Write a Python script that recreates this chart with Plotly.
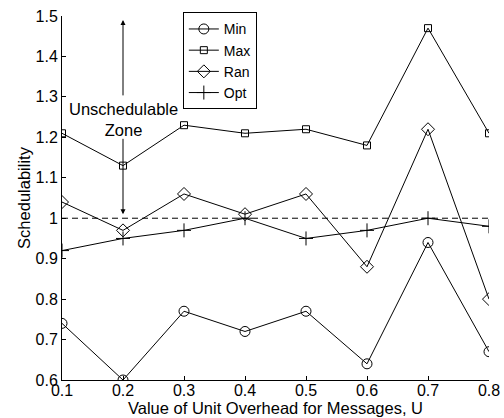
import plotly.graph_objects as go

u_values = [0.1, 0.2, 0.3, 0.4, 0.5, 0.6, 0.7, 0.8]
min_vals = [0.74, 0.60, 0.77, 0.72, 0.77, 0.64, 0.94, 0.67]
max_vals = [1.21, 1.13, 1.23, 1.21, 1.22, 1.18, 1.47, 1.21]
ran_vals = [1.04, 0.97, 1.06, 1.01, 1.06, 0.88, 1.22, 0.80]
opt_vals = [0.92, 0.95, 0.97, 1.00, 0.95, 0.97, 1.00, 0.98]
threshold = 1.0
y_ticks = [0.6, 0.7, 0.8, 0.9, 1.0, 1.1, 1.2, 1.3, 1.4, 1.5]
y_tick_labels = ["0.6", "0.7", "0.8", "0.9", "1", "1.1", "1.2", "1.3", "1.4", "1.5"]

FONT = "Liberation Sans, Arial, Helvetica, sans-serif"
FS = 16.5
fig = go.Figure()

fig.add_trace(go.Scatter(x=[u_values[0], u_values[-1]], y=[threshold, threshold],
                         mode="lines", line=dict(color="black", width=1, dash="6px,4px"),
                         showlegend=False, hoverinfo="skip"))

series = [
    ("Min", min_vals, "circle-open", 10),
    ("Max", max_vals, "square-open", 7),
    ("Ran", ran_vals, "diamond-open", 10),
    ("Opt", opt_vals, "cross-thin-open", 10),
]
for name, vals, sym, sz in series:
    fig.add_trace(go.Scatter(
        x=u_values, y=vals, name=name, mode="lines+markers",
        line=dict(color="black", width=1),
        marker=dict(symbol=sym, size=sz, color="black", line=dict(color="black", width=1)),
    ))

# Arrows for the unschedulable zone
fig.add_annotation(x=0.2, y=1.49, ax=0.2, ay=1.30, xref="x", yref="y", axref="x", ayref="y",
                   showarrow=True, arrowhead=2, arrowsize=1, arrowwidth=1, arrowcolor="black", text="")
fig.add_annotation(x=0.2, y=1.01, ax=0.2, ay=1.20, xref="x", yref="y", axref="x", ayref="y",
                   showarrow=True, arrowhead=2, arrowsize=1, arrowwidth=1, arrowcolor="black", text="")
fig.add_annotation(x=0.2, y=1.245, xref="x", yref="y", text="Unschedulable<br>Zone",
                   showarrow=False, font=dict(family=FONT, size=FS, color="black"),
                   align="center")

# x-axis title placed as an annotation below the tick labels
fig.add_annotation(x=0.5, y=-0.077, xref="paper", yref="paper",
                   text="Value of Unit Overhead for Messages, U",
                   showarrow=False, xanchor="center", yanchor="middle",
                   font=dict(family=FONT, size=FS, color="black"))

fig.update_layout(
    width=504, height=418,
    margin=dict(l=62, r=15, t=14, b=38),
    paper_bgcolor="white", plot_bgcolor="white",
    font=dict(family=FONT, size=FS, color="black"),
    legend=dict(x=0.283, y=1.01, xanchor="left", yanchor="top",
                bordercolor="black", borderwidth=1, bgcolor="white",
                font=dict(family=FONT, size=14), tracegroupgap=0,
                itemwidth=30),
    xaxis=dict(range=[0.1, 0.8], tickvals=u_values,
               ticktext=[str(v) for v in u_values],
               ticks="inside", ticklen=4, tickcolor="black",
               tickfont=dict(size=16), ticklabelstandoff=-4,
               showline=True, linecolor="black", linewidth=1,
               showgrid=False, zeroline=False, mirror=False, automargin=False),
    yaxis=dict(range=[0.6, 1.5], tickvals=y_ticks, ticktext=y_tick_labels,
               ticks="inside", ticklen=4, tickcolor="black",
               tickfont=dict(size=16),
               showline=True, linecolor="black", linewidth=1,
               showgrid=False, zeroline=False, mirror=False, automargin=False,
               title=dict(text="Schedulability", standoff=0, font=dict(size=FS))),
    showlegend=True,
)

fig.write_html("out.html")
